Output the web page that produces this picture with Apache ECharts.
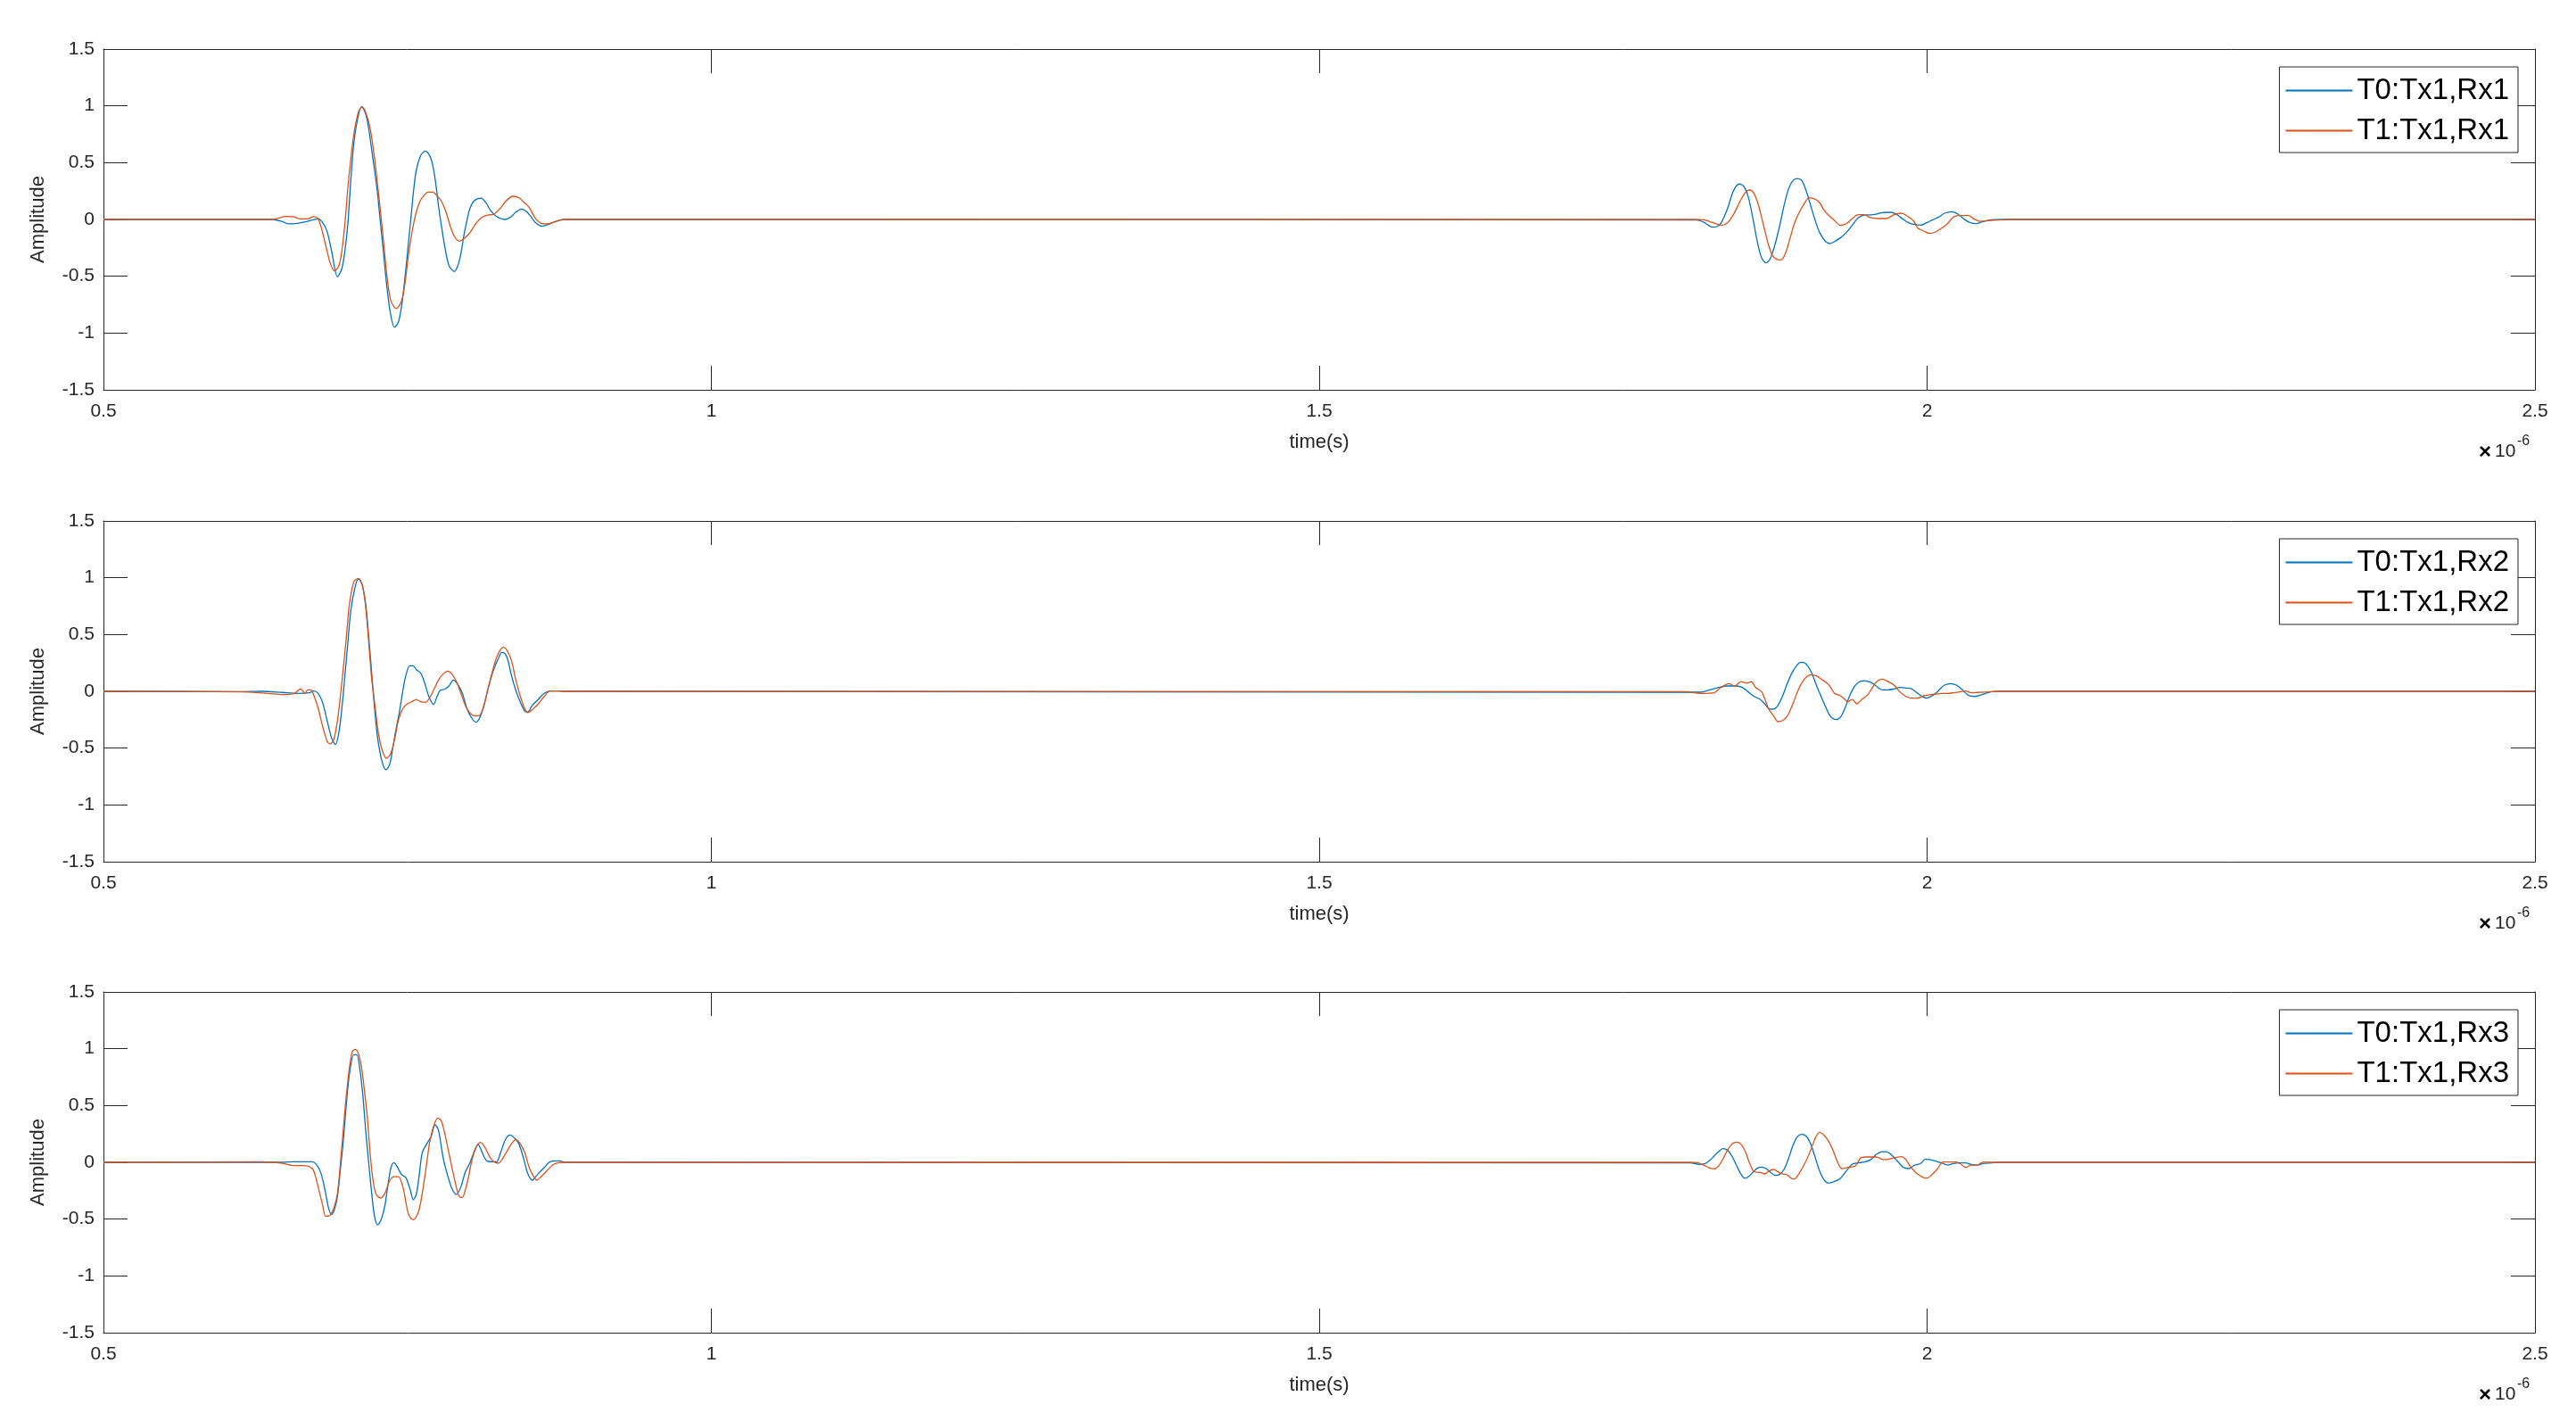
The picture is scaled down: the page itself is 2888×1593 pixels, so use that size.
<!DOCTYPE html>
<html>
<head>
<meta charset="utf-8">
<script src="https://cdn.jsdelivr.net/npm/echarts@6/dist/echarts.min.js"></script>
<style>
  html, body { margin: 0; padding: 0; background: #fff; }
  #chart { width: 2888px; height: 1593px; }
</style>
</head>
<body>
<div id="chart"></div>
<script>
// time axis in units of 1e-6 s
const xRange = [0.5, 2.5];
const xStep = 0.5;
const yRange = [-1.5, 1.5];
const yStep = 0.5;
const xName = "time(s)";
const yName = "Amplitude";

const legendNames = [
  ["T0:Tx1,Rx1", "T1:Tx1,Rx1"],
  ["T0:Tx1,Rx2", "T1:Tx1,Rx2"],
  ["T0:Tx1,Rx3", "T1:Tx1,Rx3"],
];

// Rx1 - [time, amplitude]
const rx1T0 = [
  [0.5, 0], [0.6387, 0], [0.6472, -0.018], [0.6521, -0.039], [0.6595, -0.034], [0.6692, -0.013],
  [0.6766, 0.005], [0.6802, -0.026], [0.6839, -0.105], [0.6876, -0.275], [0.6925, -0.505],
  [0.6961, -0.432], [0.6986, -0.275], [0.7010, -0.039], [0.7035, 0.353], [0.7059, 0.668],
  [0.7089, 0.877], [0.7123, 0.995], [0.7157, 0.929], [0.7182, 0.798], [0.7206, 0.615],
  [0.7230, 0.432], [0.7255, 0.223], [0.7279, -0.039], [0.7304, -0.301], [0.7328, -0.563],
  [0.7360, -0.825], [0.7394, -0.950], [0.7426, -0.903], [0.7451, -0.772], [0.7475, -0.563],
  [0.7500, -0.301], [0.7519, -0.092], [0.7536, 0.092], [0.7553, 0.275], [0.7573, 0.432],
  [0.7610, 0.563], [0.7646, 0.602], [0.7683, 0.563], [0.7707, 0.484], [0.7732, 0.327],
  [0.7756, 0.118], [0.7781, -0.065], [0.7805, -0.223], [0.7842, -0.406], [0.7886, -0.458],
  [0.7915, -0.406], [0.7940, -0.301], [0.7964, -0.144], [0.7989, -0.013], [0.8013, 0.092],
  [0.8050, 0.165], [0.8106, 0.188], [0.8148, 0.144], [0.8184, 0.079], [0.8233, 0.026],
  [0.8307, 0], [0.8356, 0.026], [0.8392, 0.065], [0.8441, 0.092], [0.8478, 0.071],
  [0.8515, 0.026], [0.8551, -0.026], [0.8605, -0.060], [0.8649, -0.047], [0.8698, -0.026],
  [0.8759, -0.005], [0.88, 0],
  [1.8101, -0.005], [1.8162, -0.024], [1.8236, -0.068], [1.8272, -0.063], [1.8309, -0.024],
  [1.8358, 0.094], [1.8407, 0.251], [1.8456, 0.312], [1.8492, 0.291], [1.8529, 0.199],
  [1.8566, 0.016], [1.8603, -0.194], [1.8639, -0.338], [1.8676, -0.382], [1.8713, -0.338],
  [1.8749, -0.220], [1.8786, -0.063], [1.8823, 0.120], [1.8859, 0.264], [1.8896, 0.343],
  [1.8933, 0.361], [1.8969, 0.343], [1.9006, 0.251], [1.9043, 0.120], [1.9080, -0.010],
  [1.9116, -0.115], [1.9165, -0.194], [1.9202, -0.212], [1.9239, -0.194], [1.9287, -0.162],
  [1.9336, -0.115], [1.9385, -0.050], [1.9434, 0.016], [1.9483, 0.039], [1.9557, 0.042],
  [1.9630, 0.060], [1.9703, 0.063], [1.9752, 0.042], [1.9801, 0.003], [1.9850, -0.031],
  [1.9899, -0.045], [1.9948, -0.050], [1.9997, -0.029], [2.0046, -0.003], [2.0095, 0.021],
  [2.0144, 0.055], [2.0205, 0.068], [2.0254, 0.047], [2.0303, 0.003], [2.0351, -0.026],
  [2.0400, -0.037], [2.0462, -0.018], [2.0535, -0.003], [2.0669, 0], [2.5, 0],
];
const rx1T1 = [
  [0.5, 0], [0.6387, 0], [0.6436, 0.010], [0.6497, 0.026], [0.6558, 0.024], [0.6619, 0.005],
  [0.6680, 0.005], [0.6729, 0.024], [0.6761, 0.013], [0.6790, -0.065], [0.6827, -0.223],
  [0.6864, -0.380], [0.6900, -0.453], [0.6937, -0.406], [0.6961, -0.275], [0.6986, -0.039],
  [0.7010, 0.275], [0.7035, 0.537], [0.7059, 0.746], [0.7096, 0.942], [0.7128, 0.990],
  [0.7157, 0.942], [0.7194, 0.798], [0.7230, 0.537], [0.7255, 0.301], [0.7279, 0.065],
  [0.7304, -0.196], [0.7333, -0.510], [0.7365, -0.720], [0.7409, -0.785], [0.7451, -0.720],
  [0.7480, -0.563], [0.7504, -0.353], [0.7529, -0.170], [0.7561, 0.013], [0.7597, 0.144],
  [0.7634, 0.209], [0.7671, 0.241], [0.7707, 0.241], [0.7744, 0.209], [0.7781, 0.157],
  [0.7818, 0.065], [0.7854, -0.065], [0.7891, -0.157], [0.7928, -0.191], [0.7964, -0.170],
  [0.8013, -0.118], [0.8062, -0.039], [0.8111, 0.018], [0.8160, 0.039], [0.8209, 0.045],
  [0.8258, 0.092], [0.8307, 0.157], [0.8368, 0.204], [0.8417, 0.191], [0.8453, 0.157],
  [0.8502, 0.105], [0.8551, 0.013], [0.8600, -0.034], [0.8649, -0.039], [0.8698, -0.026],
  [0.8759, -0.005], [0.88, 0],
  [1.8101, 0], [1.8162, -0.003], [1.8211, -0.018], [1.8260, -0.037], [1.8309, -0.050],
  [1.8358, -0.029], [1.8407, 0.042], [1.8456, 0.147], [1.8505, 0.238], [1.8541, 0.259],
  [1.8578, 0.225], [1.8615, 0.120], [1.8651, -0.037], [1.8688, -0.194], [1.8725, -0.312],
  [1.8762, -0.351], [1.8798, -0.356], [1.8835, -0.298], [1.8872, -0.168], [1.8908, -0.037],
  [1.8945, 0.055], [1.8994, 0.147], [1.9031, 0.191], [1.9080, 0.178], [1.9116, 0.147],
  [1.9153, 0.081], [1.9190, 0.037], [1.9239, -0.010], [1.9287, -0.052], [1.9336, -0.037],
  [1.9385, 0.008], [1.9434, 0.042], [1.9483, 0.042], [1.9532, 0.016], [1.9605, 0.008],
  [1.9666, 0.008], [1.9728, 0.042], [1.9789, 0.055], [1.9838, 0.029], [1.9887, -0.010],
  [1.9923, -0.076], [1.9972, -0.102], [2.0021, -0.123], [2.0070, -0.110], [2.0131, -0.068],
  [2.0168, -0.037], [2.0217, 0.021], [2.0266, 0.034], [2.0339, 0.034], [2.0388, 0.003],
  [2.0437, -0.016], [2.0510, -0.010], [2.0584, -0.005], [2.0669, 0], [2.5, 0],
];

// Rx2
const rx2T0 = [
  [0.5, 0], [0.6130, -0.003], [0.6301, 0], [0.6472, -0.010], [0.6595, -0.018], [0.6692, -0.013],
  [0.6729, 0.003], [0.6766, -0.018], [0.6802, -0.097], [0.6839, -0.254], [0.6876, -0.411],
  [0.6908, -0.469], [0.6937, -0.359], [0.6961, -0.149], [0.6986, 0.139], [0.7010, 0.427],
  [0.7035, 0.715], [0.7071, 0.924], [0.7098, 0.990], [0.7128, 0.937], [0.7157, 0.767],
  [0.7182, 0.479], [0.7206, 0.165], [0.7230, -0.149], [0.7255, -0.411], [0.7292, -0.620],
  [0.7323, -0.691], [0.7353, -0.647], [0.7377, -0.516], [0.7402, -0.359], [0.7431, -0.202],
  [0.7463, 0.008], [0.7487, 0.139], [0.7519, 0.225], [0.7548, 0.225], [0.7573, 0.191],
  [0.7610, 0.160], [0.7646, 0.060], [0.7676, -0.045], [0.7715, -0.115], [0.7744, -0.045],
  [0.7769, 0.008], [0.7805, 0.018], [0.7842, 0.047], [0.7879, 0.099], [0.7915, 0.060],
  [0.7952, -0.018], [0.7989, -0.149], [0.8025, -0.228], [0.8062, -0.272], [0.8091, -0.241],
  [0.8123, -0.149], [0.8148, -0.045], [0.8172, 0.060], [0.8209, 0.191], [0.8246, 0.283],
  [0.8277, 0.343], [0.8307, 0.327], [0.8331, 0.257], [0.8356, 0.139], [0.8392, 0.008],
  [0.8429, -0.097], [0.8466, -0.175], [0.8490, -0.181], [0.8527, -0.123], [0.8576, -0.071],
  [0.8625, -0.018], [0.8674, 0.003], [0.8735, 0.003], [0.88, 0],
  [1.7991, -0.008], [1.8138, -0.008], [1.8211, 0.013], [1.8285, 0.034], [1.8358, 0.047],
  [1.8431, 0.047], [1.8480, 0.034], [1.8529, -0.005], [1.8578, -0.045], [1.8627, -0.071],
  [1.8664, -0.110], [1.8700, -0.154], [1.8737, -0.157], [1.8774, -0.123], [1.8810, -0.045],
  [1.8847, 0.060], [1.8884, 0.152], [1.8921, 0.217], [1.8957, 0.254], [1.8982, 0.254],
  [1.9018, 0.223], [1.9055, 0.152], [1.9092, 0.047], [1.9128, -0.045], [1.9165, -0.136],
  [1.9202, -0.215], [1.9251, -0.249], [1.9287, -0.228], [1.9324, -0.149], [1.9361, -0.045],
  [1.9398, 0.034], [1.9434, 0.079], [1.9483, 0.094], [1.9532, 0.081], [1.9581, 0.047],
  [1.9630, 0.013], [1.9679, 0.013], [1.9728, 0.021], [1.9777, 0.034], [1.9826, 0.029],
  [1.9874, 0.021], [1.9923, -0.018], [1.9960, -0.045], [1.9997, -0.060], [2.0033, -0.045],
  [2.0070, -0.018], [2.0107, 0.021], [2.0144, 0.055], [2.0192, 0.068], [2.0241, 0.055],
  [2.0290, 0.013], [2.0339, -0.034], [2.0388, -0.045], [2.0437, -0.034], [2.0486, -0.016],
  [2.0535, -0.003], [2.06, 0], [2.5, 0],
];
const rx2T1 = [
  [0.5, 0], [0.6130, -0.005], [0.6350, -0.018], [0.6472, -0.029], [0.6570, -0.018],
  [0.6607, 0.013], [0.6624, 0.021], [0.6656, -0.018], [0.6680, 0.013], [0.6705, 0.013],
  [0.6729, -0.031], [0.6766, -0.149], [0.6802, -0.306], [0.6839, -0.437], [0.6864, -0.463],
  [0.6893, -0.432], [0.6925, -0.254], [0.6949, -0.045], [0.6974, 0.217], [0.6998, 0.479],
  [0.7023, 0.767], [0.7059, 0.963], [0.7096, 0.995], [0.7128, 0.937], [0.7157, 0.741],
  [0.7182, 0.427], [0.7206, 0.113], [0.7230, -0.097], [0.7260, -0.359], [0.7292, -0.516],
  [0.7328, -0.589], [0.7365, -0.542], [0.7397, -0.411], [0.7426, -0.254], [0.7463, -0.149],
  [0.7500, -0.110], [0.7536, -0.092], [0.7573, -0.071], [0.7610, -0.092], [0.7646, -0.097],
  [0.7683, -0.058], [0.7720, 0.021], [0.7756, 0.099], [0.7793, 0.152], [0.7835, 0.178],
  [0.7866, 0.152], [0.7903, 0.086], [0.7940, -0.018], [0.7976, -0.123], [0.8013, -0.188],
  [0.8050, -0.215], [0.8087, -0.215], [0.8123, -0.149], [0.8160, 0.008], [0.8197, 0.165],
  [0.8233, 0.296], [0.8270, 0.374], [0.8294, 0.387], [0.8319, 0.361], [0.8356, 0.270],
  [0.8392, 0.099], [0.8429, -0.045], [0.8458, -0.136], [0.8490, -0.188], [0.8527, -0.162],
  [0.8576, -0.110], [0.8625, -0.045], [0.8674, 0.003], [0.8735, 0.003], [0.88, 0],
  [1.7991, -0.003], [1.8040, -0.005], [1.8138, -0.018], [1.8211, -0.016], [1.8248, -0.013],
  [1.8297, 0.029], [1.8370, 0.068], [1.8419, 0.047], [1.8468, 0.086], [1.8517, 0.071],
  [1.8554, 0.086], [1.8590, 0.034], [1.8639, -0.005], [1.8676, -0.097], [1.8700, -0.162],
  [1.8737, -0.215], [1.8774, -0.267], [1.8823, -0.249], [1.8859, -0.202], [1.8896, -0.110],
  [1.8933, -0.005], [1.8969, 0.073], [1.9006, 0.126], [1.9043, 0.144], [1.9092, 0.134],
  [1.9141, 0.099], [1.9190, 0.060], [1.9239, -0.018], [1.9287, -0.039], [1.9324, -0.071],
  [1.9349, -0.092], [1.9385, -0.071], [1.9422, -0.110], [1.9459, -0.076], [1.9508, -0.034],
  [1.9544, 0.021], [1.9581, 0.081], [1.9630, 0.107], [1.9679, 0.086], [1.9728, 0.055],
  [1.9777, -0.005], [1.9826, -0.045], [1.9874, -0.060], [1.9923, -0.060], [1.9972, -0.039],
  [2.0021, -0.031], [2.0070, -0.024], [2.0119, -0.018], [2.0168, -0.018], [2.0217, -0.013],
  [2.0278, -0.003], [2.0315, 0.003], [2.0364, -0.013], [2.0413, -0.010], [2.0535, -0.003],
  [2.06, 0], [2.5, 0],
];

// Rx3
const rx3T0 = [
  [0.5, 0], [0.6301, 0], [0.6472, 0], [0.6570, 0.005], [0.6717, 0.005], [0.6753, -0.021],
  [0.6790, -0.099], [0.6827, -0.270], [0.6851, -0.401], [0.6876, -0.458], [0.6900, -0.414],
  [0.6925, -0.296], [0.6949, -0.060], [0.6974, 0.202], [0.6998, 0.516], [0.7023, 0.777],
  [0.7059, 0.948], [0.7084, 0.948], [0.7108, 0.830], [0.7133, 0.594], [0.7157, 0.280],
  [0.7182, -0.008], [0.7206, -0.270], [0.7230, -0.479], [0.7255, -0.550], [0.7284, -0.505],
  [0.7316, -0.374], [0.7341, -0.191], [0.7365, -0.047], [0.7389, -0.003], [0.7414, -0.034],
  [0.7451, -0.107], [0.7487, -0.134], [0.7524, -0.243], [0.7548, -0.330], [0.7573, -0.283],
  [0.7597, -0.113], [0.7622, 0.084], [0.7659, 0.162], [0.7695, 0.228], [0.7727, 0.332],
  [0.7756, 0.280], [0.7793, 0.045], [0.7830, -0.113], [0.7866, -0.230], [0.7903, -0.283],
  [0.7940, -0.217], [0.7976, -0.086], [0.8013, -0.008], [0.8050, 0.097], [0.8082, 0.157],
  [0.8111, 0.097], [0.8148, 0.018], [0.8197, 0.005], [0.8233, 0.005], [0.8270, 0.097],
  [0.8307, 0.202], [0.8343, 0.241], [0.8380, 0.215], [0.8417, 0.162], [0.8453, 0.045],
  [0.8490, -0.099], [0.8527, -0.157], [0.8576, -0.099], [0.8625, -0.047], [0.8674, 0.005],
  [0.8747, 0.013], [0.8796, 0],
  [1.8052, -0.005], [1.8126, -0.018], [1.8175, -0.010], [1.8211, 0.016], [1.8248, 0.055],
  [1.8285, 0.094], [1.8321, 0.120], [1.8358, 0.107], [1.8395, 0.055], [1.8431, -0.024],
  [1.8468, -0.102], [1.8500, -0.141], [1.8529, -0.128], [1.8566, -0.089], [1.8603, -0.052],
  [1.8639, -0.042], [1.8676, -0.055], [1.8713, -0.089], [1.8749, -0.115], [1.8786, -0.107],
  [1.8823, -0.063], [1.8859, 0.029], [1.8896, 0.147], [1.8933, 0.225], [1.8969, 0.246],
  [1.9006, 0.230], [1.9043, 0.160], [1.9080, 0.042], [1.9116, -0.076], [1.9153, -0.154],
  [1.9190, -0.183], [1.9239, -0.168], [1.9287, -0.141], [1.9336, -0.076], [1.9385, -0.016],
  [1.9434, -0.005], [1.9483, 0.003], [1.9532, 0.021], [1.9581, 0.068], [1.9630, 0.094],
  [1.9667, 0.094], [1.9703, 0.068], [1.9752, 0.016], [1.9801, -0.042], [1.9850, -0.055],
  [1.9899, -0.024], [1.9948, -0.010], [1.9984, 0.026], [2.0021, 0.024], [2.0070, 0.010],
  [2.0119, -0.005], [2.0168, -0.024], [2.0217, -0.010], [2.0266, -0.005], [2.0315, -0.005],
  [2.0364, -0.018], [2.0413, -0.024], [2.0462, -0.010], [2.0530, -0.005], [2.06, 0], [2.5, 0],
];
const rx3T1 = [
  [0.5, 0], [0.6301, 0.005], [0.6472, -0.008], [0.6570, -0.029], [0.6643, -0.029],
  [0.6717, -0.055], [0.6741, -0.113], [0.6766, -0.217], [0.6802, -0.374], [0.6827, -0.474],
  [0.6864, -0.466], [0.6900, -0.387], [0.6925, -0.270], [0.6949, -0.008], [0.6974, 0.306],
  [0.6998, 0.594], [0.7023, 0.830], [0.7047, 0.974], [0.7071, 0.995], [0.7096, 0.961],
  [0.7120, 0.856], [0.7145, 0.647], [0.7169, 0.411], [0.7194, 0.071], [0.7218, -0.165],
  [0.7243, -0.283], [0.7279, -0.314], [0.7316, -0.270], [0.7353, -0.165], [0.7389, -0.126],
  [0.7426, -0.126], [0.7463, -0.217], [0.7487, -0.348], [0.7512, -0.466], [0.7548, -0.505],
  [0.7585, -0.453], [0.7610, -0.348], [0.7634, -0.191], [0.7659, -0.008], [0.7683, 0.175],
  [0.7720, 0.332], [0.7751, 0.390], [0.7781, 0.359], [0.7818, 0.202], [0.7854, 0.018],
  [0.7891, -0.165], [0.7928, -0.304], [0.7952, -0.309], [0.7976, -0.243], [0.8001, -0.139],
  [0.8025, -0.008], [0.8062, 0.123], [0.8099, 0.175], [0.8135, 0.136], [0.8172, 0.058],
  [0.8209, 0.005], [0.8246, -0.008], [0.8282, 0.031], [0.8319, 0.097], [0.8356, 0.162],
  [0.8392, 0.202], [0.8429, 0.162], [0.8466, 0.084], [0.8502, -0.047], [0.8539, -0.126],
  [0.8564, -0.157], [0.8600, -0.126], [0.8649, -0.073], [0.8698, -0.021], [0.8747, -0.003],
  [0.8796, 0],
  [1.8052, 0], [1.8113, -0.003], [1.8162, -0.024], [1.8211, -0.050], [1.8248, -0.058],
  [1.8285, -0.031], [1.8321, 0.029], [1.8358, 0.107], [1.8395, 0.160], [1.8431, 0.178],
  [1.8468, 0.160], [1.8505, 0.094], [1.8541, -0.010], [1.8578, -0.084], [1.8627, -0.089],
  [1.8664, -0.102], [1.8700, -0.076], [1.8737, -0.063], [1.8774, -0.084], [1.8810, -0.102],
  [1.8847, -0.110], [1.8884, -0.141], [1.8908, -0.147], [1.8945, -0.102], [1.8994, -0.010],
  [1.9043, 0.107], [1.9080, 0.212], [1.9116, 0.264], [1.9153, 0.238], [1.9190, 0.186],
  [1.9226, 0.107], [1.9263, 0.003], [1.9300, -0.055], [1.9349, -0.045], [1.9410, -0.031],
  [1.9459, 0.042], [1.9508, 0.047], [1.9581, 0.047], [1.9642, 0.024], [1.9691, 0.029],
  [1.9740, 0.042], [1.9789, 0.050], [1.9826, 0.024], [1.9862, -0.037], [1.9911, -0.094],
  [1.9960, -0.128], [1.9997, -0.141], [2.0033, -0.115], [2.0082, -0.063], [2.0131, 0.003],
  [2.0192, 0.003], [2.0241, 0.003], [2.0278, -0.016], [2.0315, -0.045], [2.0364, -0.024],
  [2.0413, -0.024], [2.0462, 0.003], [2.0530, 0], [2.5, 0],
];

const panels = [[rx1T0, rx1T1], [rx2T0, rx2T1], [rx3T0, rx3T1]];
const colors = ["#0072BD", "#D95319"];

const font = "Liberation Sans, Arial, Helvetica, sans-serif";
const ink = "#262626";
const panelTop = [55, 584, 1112];
const panelH = 382;

const chart = echarts.init(document.getElementById("chart"));

const grid = [];
const xAxis = [];
const yAxis = [];
const series = [];
const legend = [];
const graphic = [];

panels.forEach((pair, i) => {
  grid.push({ left: 116, right: 46, top: panelTop[i], height: panelH });

  const axisLine = { show: true, onZero: false, lineStyle: { color: ink, width: 1 } };
  const axisTick = { show: true, inside: true, length: 27, lineStyle: { color: ink, width: 1 } };
  const labelStyle = { color: ink, fontFamily: font, fontSize: 21 };

  // bottom x axis with labels, top one only mirrors the ticks (box on)
  xAxis.push({
    gridIndex: i, type: "value", position: "bottom",
    min: xRange[0], max: xRange[1], interval: xStep,
    axisLine, axisTick, splitLine: { show: false },
    axisLabel: { ...labelStyle, margin: 14 },
    name: xName, nameLocation: "middle", nameGap: 48,
    nameTextStyle: { color: ink, fontFamily: font, fontSize: 22 },
  });
  xAxis.push({
    gridIndex: i, type: "value", position: "top",
    min: xRange[0], max: xRange[1], interval: xStep,
    axisLine, axisTick, splitLine: { show: false }, axisLabel: { show: false },
  });
  yAxis.push({
    gridIndex: i, type: "value", position: "left",
    min: yRange[0], max: yRange[1], interval: yStep,
    axisLine, axisTick, splitLine: { show: false },
    axisLabel: { ...labelStyle, margin: 10 },
    name: yName, nameLocation: "middle", nameGap: 62,
    nameTextStyle: { color: ink, fontFamily: font, fontSize: 22 },
  });
  yAxis.push({
    gridIndex: i, type: "value", position: "right",
    min: yRange[0], max: yRange[1], interval: yStep,
    axisLine, axisTick, splitLine: { show: false }, axisLabel: { show: false },
  });

  pair.forEach((data, k) => {
    series.push({
      name: legendNames[i][k],
      type: "line",
      xAxisIndex: 2 * i,
      yAxisIndex: 2 * i,
      data: data,
      symbol: "none",
      showSymbol: false,
      smooth: 0.3,
      lineStyle: { color: colors[k], width: 1.3 },
      itemStyle: { color: colors[k] },
      z: 2 + k,
    });
  });

  legend.push({
    data: legendNames[i],
    orient: "vertical",
    right: 65,
    top: panelTop[i] + 20,
    backgroundColor: "#fff",
    borderColor: ink,
    borderWidth: 1,
    borderRadius: 0,
    padding: [8, 10, 6, 7],
    icon: "rect",
    itemWidth: 75,
    itemHeight: 2,
    itemGap: 8,
    selectedMode: false,
    textStyle: { color: "#000", fontFamily: font, fontSize: 33, lineHeight: 37 },
  });

  // x10^-6 exponent under the right end of the time axis
  const base = panelTop[i] + panelH;
  graphic.push({
    type: "text", left: 2779, top: base + 58,
    style: { text: "×", fill: "#000", font: "bold 24px " + font },
  });
  graphic.push({
    type: "text", left: 2797, top: base + 59,
    style: { text: "10", fill: ink, font: "21px " + font },
  });
  graphic.push({
    type: "text", left: 2822, top: base + 50,
    style: { text: "-6", fill: ink, font: "16px " + font },
  });
});

chart.setOption({
  animation: false,
  backgroundColor: "#fff",
  grid, xAxis, yAxis, series, legend, graphic,
});
</script>
</body>
</html>
